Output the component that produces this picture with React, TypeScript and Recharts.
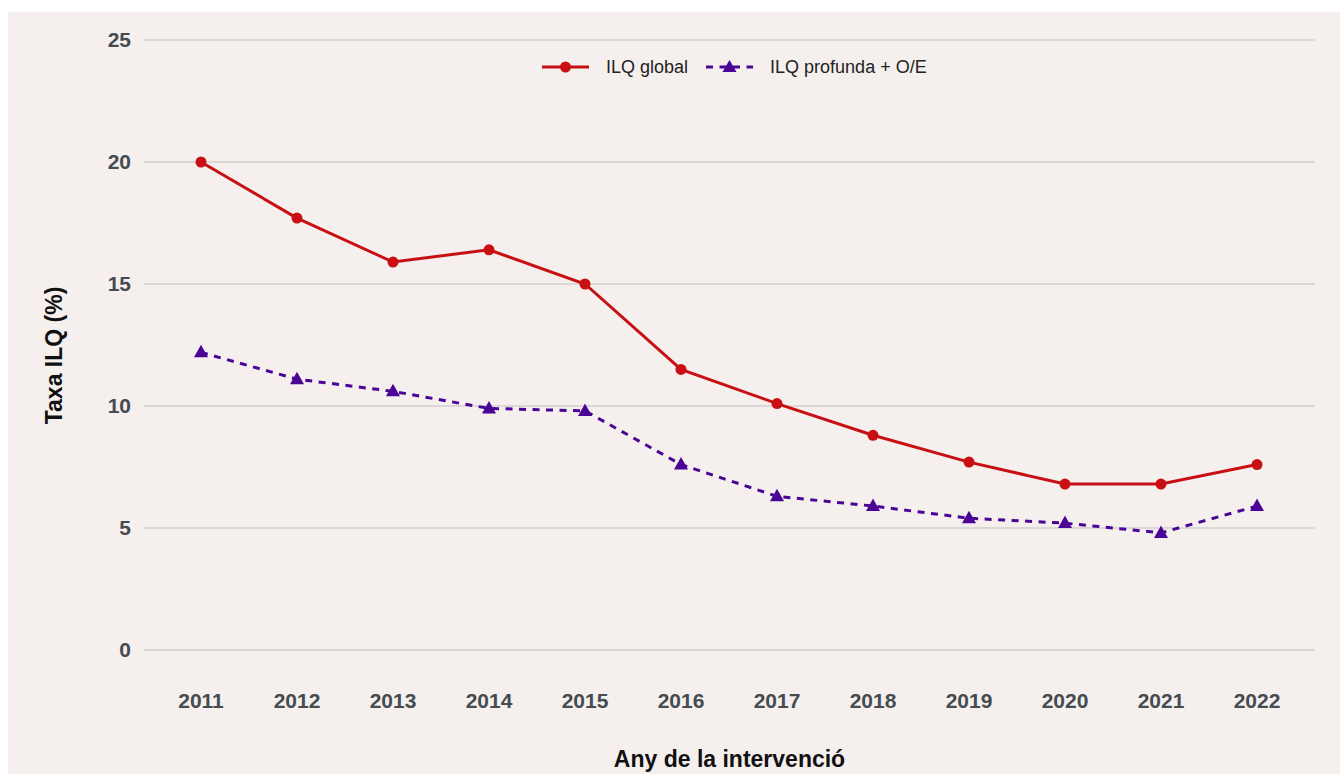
import React from 'react';
import { LineChart, Line, XAxis, YAxis, CartesianGrid, Label } from 'recharts';

const years = ['2011', '2012', '2013', '2014', '2015', '2016', '2017', '2018', '2019', '2020', '2021', '2022'];
const ilqGlobal = [20.0, 17.7, 15.9, 16.4, 15.0, 11.5, 10.1, 8.8, 7.7, 6.8, 6.8, 7.6];
const ilqProfunda = [12.2, 11.1, 10.6, 9.9, 9.8, 7.6, 6.3, 5.9, 5.4, 5.2, 4.8, 5.9];
const yTicks = [0, 5, 10, 15, 20, 25];

const seriesNames = { global: 'ILQ global', profunda: 'ILQ profunda + O/E' };

const data = years.map((y, i) => ({ year: y, global: ilqGlobal[i], profunda: ilqProfunda[i] }));

const RED = '#c81014';
const PURPLE = '#4a0596';
const BG = '#f5f0ee';
const TICK = '#454b50';
const FONT = '"Liberation Sans", Arial, Helvetica, sans-serif';

const Triangle = (props: any) => {
  const { cx, cy } = props;
  if (cx == null || cy == null) return null;
  return <path d={`M${cx},${cy - 7.5} L${cx + 7},${cy + 5} L${cx - 7},${cy + 5} Z`} fill={PURPLE} />;
};

const CustomLegend = () => (
  <div
    style={{
      position: 'absolute',
      left: 534,
      top: 45,
      display: 'flex',
      alignItems: 'center',
      fontFamily: FONT,
      fontSize: 18,
      color: '#222',
      height: 20,
    }}
  >
    <svg width={47} height={14} style={{ display: 'block' }}>
      <line x1={0} y1={7} x2={47} y2={7} stroke={RED} strokeWidth={3} />
      <circle cx={23.5} cy={7} r={5.5} fill={RED} />
    </svg>
    <span style={{ marginLeft: 17, marginRight: 18, lineHeight: '20px' }}>{seriesNames.global}</span>
    <svg width={47} height={14} style={{ display: 'block' }}>
      <line x1={0} y1={7} x2={47} y2={7} stroke={PURPLE} strokeWidth={3} strokeDasharray="7 6.5" />
      <path d={`M23.5,0 L30.5,12 L16.5,12 Z`} fill={PURPLE} />
    </svg>
    <span style={{ marginLeft: 17, lineHeight: '20px' }}>{seriesNames.profunda}</span>
  </div>
);

export default function App() {
  return (
    <div
      style={{
        position: 'fixed',
        left: 8,
        top: 12,
        width: 1332,
        height: 762,
        background: BG,
        overflow: 'hidden',
      }}
    >
      <LineChart width={1332} height={762} data={data} margin={{ top: 28, right: 25, bottom: 34, left: 0 }}>
        <CartesianGrid vertical={false} stroke="#d2d0cf" strokeWidth={1.5} />
        <XAxis
          dataKey="year"
          type="category"
          scale="point"
          padding={{ left: 57, right: 58 }}
          axisLine={false}
          tickLine={false}
          tickSize={0}
          tickMargin={43}
          height={90}
          tick={{ fill: TICK, fontSize: 21, fontWeight: 700, fontFamily: FONT }}
          interval={0}
        >
          <Label
            content={(p: any) => {
              const vb = p.viewBox || {};
              return (
                <text
                  x={vb.x + vb.width / 2}
                  y={vb.y + 116.7}
                  textAnchor="middle"
                  fontFamily={FONT}
                  fontSize={23}
                  fontWeight={700}
                  fill="#111"
                >
                  Any de la intervenció
                </text>
              );
            }}
          />
        </XAxis>
        <YAxis
          domain={[0, 25]}
          ticks={yTicks}
          width={136}
          axisLine={false}
          tickLine={false}
          tickSize={0}
          tickMargin={13}
          tick={{ fill: TICK, fontSize: 21, fontWeight: 700, fontFamily: FONT }}
        >
          <Label
            content={() => (
              <text
                x={54}
                y={343.5}
                transform="rotate(-90, 54, 343.5)"
                textAnchor="middle"
                fontFamily={FONT}
                fontSize={23}
                fontWeight={700}
                fill="#111"
              >
                Taxa ILQ (%)
              </text>
            )}
          />
        </YAxis>
        <Line
          dataKey="global"
          name={seriesNames.global}
          stroke={RED}
          strokeWidth={3}
          dot={{ r: 5.5, fill: RED, stroke: RED, strokeWidth: 0 }}
          activeDot={false}
          isAnimationActive={false}
        />
        <Line
          dataKey="profunda"
          name={seriesNames.profunda}
          stroke={PURPLE}
          strokeWidth={3}
          strokeDasharray="7 6.5"
          dot={<Triangle />}
          activeDot={false}
          isAnimationActive={false}
        />
      </LineChart>
      <CustomLegend />
    </div>
  );
}
